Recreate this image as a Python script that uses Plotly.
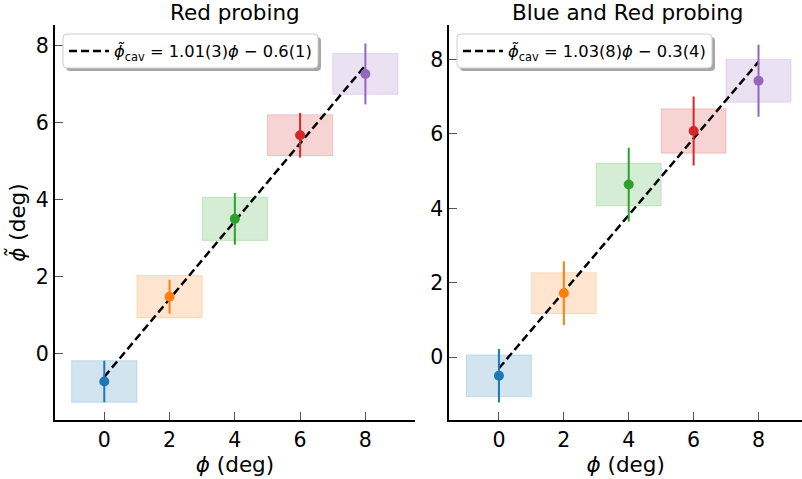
import plotly.graph_objects as go

# ---------------- data ----------------
phi = [0, 2, 4, 6, 8]
colors = ["31,119,180", "255,127,14", "44,160,44", "214,39,40", "148,103,189"]

# Red probing (left panel)
red_phi_tilde = [-0.72, 1.48, 3.50, 5.67, 7.26]
red_err = [0.54, 0.44, 0.67, 0.58, 0.79]
red_box_half = [0.54, 0.55, 0.56, 0.53, 0.53]
red_slope, red_intercept = 1.01, -0.6
red_label = "<i>ϕ̃</i><sub>cav</sub> = 1.01(3)<i>ϕ</i> − 0.6(1)"

# Blue and Red probing (right panel)
br_phi_tilde = [-0.50, 1.72, 4.64, 6.08, 7.43]
br_err = [0.72, 0.86, 0.99, 0.93, 0.97]
br_box_half = [0.56, 0.55, 0.57, 0.595, 0.575]
br_slope, br_intercept = 1.03, -0.3
br_label = "<i>ϕ̃</i><sub>cav</sub> = 1.03(8)<i>ϕ</i> − 0.3(4)"

box_half_width = 1.0
fit_x = [0, 8]
x_ticks = [0, 2, 4, 6, 8]
y_ticks = [0, 2, 4, 6, 8]

titles = ["Red probing", "Blue and Red probing"]
FONT = "DejaVu Sans"
W, H = 802, 479
TICK_SIZE = 20.5
LABEL_SIZE = 21.5

fig = go.Figure()

panels = [
    ("x", "y", "legend", red_phi_tilde, red_err, red_box_half, red_slope, red_intercept, red_label),
    ("x2", "y2", "legend2", br_phi_tilde, br_err, br_box_half, br_slope, br_intercept, br_label),
]

for xa, ya, leg, vals, errs, halves, m, b, lab in panels:
    # shaded boxes
    for p, v, h, c in zip(phi, vals, halves, colors):
        fig.add_trace(go.Scatter(
            x=[p - box_half_width, p + box_half_width, p + box_half_width, p - box_half_width, p - box_half_width],
            y=[v - h, v - h, v + h, v + h, v - h],
            mode="lines", fill="toself",
            fillcolor=f"rgba({c},0.2)", line=dict(color=f"rgba({c},0.2)", width=1),
            xaxis=xa, yaxis=ya, showlegend=False, hoverinfo="skip"))
    # fit line
    fig.add_trace(go.Scatter(
        x=fit_x, y=[m * xx + b for xx in fit_x], mode="lines",
        line=dict(color="black", width=2.5, dash="8px,4px"),
        name=lab, xaxis=xa, yaxis=ya, legend=leg, showlegend=True))
    # points with error bars
    for p, v, e, c in zip(phi, vals, errs, colors):
        fig.add_trace(go.Scatter(
            x=[p], y=[v], mode="markers",
            marker=dict(color=f"rgb({c})", size=10),
            error_y=dict(type="data", array=[e], color=f"rgb({c})", thickness=2, width=0),
            xaxis=xa, yaxis=ya, showlegend=False))

axis_common = dict(
    showgrid=False, zeroline=False, showline=True, linecolor="black", linewidth=2,
    ticks="inside", ticklen=8, tickwidth=1.2, tickcolor="#555555",
    tickfont=dict(family=FONT, size=TICK_SIZE, color="black"),
    automargin=False,
)


def rounded_rect(x0, y0, x1, y1, r=4):
    """Rounded rectangle path in paper coordinates from pixel bounds."""
    def px(x):
        return x / W

    def py(y):
        return 1 - y / H
    return (f"M {px(x0 + r)},{py(y0)} L {px(x1 - r)},{py(y0)} "
            f"Q {px(x1)},{py(y0)} {px(x1)},{py(y0 + r)} L {px(x1)},{py(y1 - r)} "
            f"Q {px(x1)},{py(y1)} {px(x1 - r)},{py(y1)} L {px(x0 + r)},{py(y1)} "
            f"Q {px(x0)},{py(y1)} {px(x0)},{py(y1 - r)} L {px(x0)},{py(y0 + r)} "
            f"Q {px(x0)},{py(y0)} {px(x0 + r)},{py(y0)} Z")


shapes = []
for lx0, lx1 in [(63, 318), (457, 712)]:
    ly0, ly1 = 34, 68
    shapes.append(dict(type="path", xref="paper", yref="paper", layer="above",
                       path=rounded_rect(lx0 + 3, ly0 + 3, lx1 + 3, ly1 + 3),
                       fillcolor="rgba(0,0,0,0.35)", line=dict(width=0)))
    shapes.append(dict(type="path", xref="paper", yref="paper", layer="above",
                       path=rounded_rect(lx0, ly0, lx1, ly1),
                       fillcolor="white", line=dict(color="#cccccc", width=1)))

ydom = [1 - 420 / H, 1 - 25 / H]
legend_common = dict(xanchor="left", yanchor="top", bgcolor="rgba(0,0,0,0)", borderwidth=0,
                     itemwidth=40, font=dict(family=FONT, size=16.3, color="black"))
fig.update_layout(
    width=W, height=H,
    margin=dict(l=0, r=0, t=0, b=0),
    template="none",
    paper_bgcolor="white", plot_bgcolor="white",
    font=dict(family=FONT, color="black"),
    xaxis=dict(axis_common, domain=[55 / W, 415 / W], range=[-1.51, 9.52], tickvals=x_ticks,
               anchor="y", title=dict(text="<i>ϕ</i> (deg)", font=dict(size=LABEL_SIZE), standoff=4)),
    yaxis=dict(axis_common, domain=ydom, range=[-1.72, 8.53], tickvals=y_ticks,
               anchor="x", title=dict(text="<i>ϕ̃</i> (deg)", font=dict(size=LABEL_SIZE), standoff=4)),
    xaxis2=dict(axis_common, domain=[449.3 / W, 1.0], range=[-1.53, 9.34], tickvals=x_ticks,
                anchor="y2", title=dict(text="<i>ϕ</i> (deg)", font=dict(size=LABEL_SIZE), standoff=4)),
    yaxis2=dict(axis_common, domain=ydom, range=[-1.69, 8.93], tickvals=y_ticks, anchor="x2"),
    legend=dict(legend_common, x=64 / W, y=1 - 34 / H),
    legend2=dict(legend_common, x=458 / W, y=1 - 34 / H),
    shapes=shapes,
    annotations=[
        dict(text=titles[0], x=235 / W, y=1 - 12 / H, xref="paper", yref="paper",
             showarrow=False, xanchor="center", yanchor="middle",
             font=dict(family=FONT, size=LABEL_SIZE, color="black")),
        dict(text=titles[1], x=627 / W, y=1 - 12 / H, xref="paper", yref="paper",
             showarrow=False, xanchor="center", yanchor="middle",
             font=dict(family=FONT, size=LABEL_SIZE, color="black")),
    ],
)

fig.write_html("out.html", config={"displayModeBar": False},
               post_script="document.body.style.margin='0';document.body.style.overflow='hidden';")
